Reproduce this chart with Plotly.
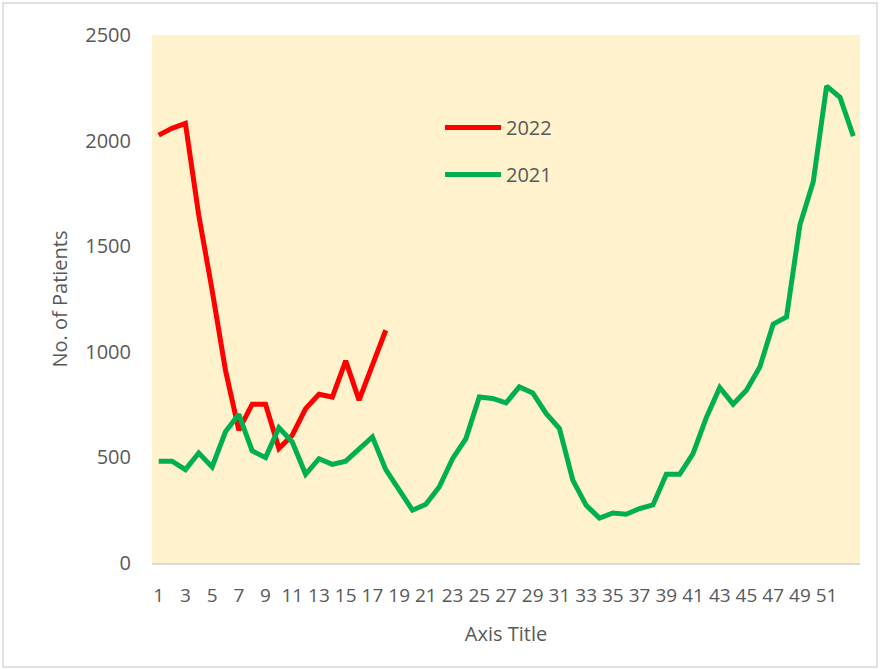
import plotly.graph_objects as go

weeks = list(range(1, 54))
cases_2022 = [2026, 2058, 2081, 1647, 1292, 913, 629, 752, 752, 542, 605, 731,
              799, 786, 957, 771, 937, 1102]
cases_2021 = [482, 482, 442, 521, 455, 621, 704, 531, 499, 641, 573, 420, 494,
              467, 482, 542, 597, 442, 344, 250, 278, 360, 494, 589, 786, 779,
              758, 834, 805, 708, 637, 392, 273, 213, 237, 231, 258, 275, 420,
              420, 518, 689, 831, 752, 818, 928, 1131, 1165, 1600, 1805, 2258,
              2205, 2021]
tick_weeks = weeks[::2][:26]
tick_labels = [str(w) for w in tick_weeks]
y_ticks = [0, 500, 1000, 1500, 2000, 2500]

W, H = 880, 670
ML, MR, MT, MB = 152, 20, 35, 107
PW, PH = W - ML - MR, H - MT - MB

TEXT = "#595959"
FONT = "Open Sans, Liberation Sans, sans-serif"

fig = go.Figure()
fig.add_trace(go.Scatter(x=weeks[:len(cases_2022)], y=cases_2022, mode="lines",
                         name="2022", legendgroup="a",
                         line=dict(color="#FF0000", width=5)))
fig.add_trace(go.Scatter(x=weeks, y=cases_2021, mode="lines",
                         name="2021", legendgroup="b",
                         line=dict(color="#00B050", width=5)))

# outer chart border
fig.add_shape(type="rect", xref="paper", yref="paper",
              x0=(3 - ML) / PW, x1=(877 - ML) / PW,
              y0=-(H - 3 - MT - PH) / PH, y1=1 + (MT - 3) / PH,
              line=dict(color="#D9D9D9", width=1.5), layer="below")

fig.update_layout(
    width=W, height=H,
    margin=dict(l=ML, r=MR, t=MT, b=MB),
    paper_bgcolor="white",
    plot_bgcolor="#FFF2CC",
    font=dict(family=FONT, color=TEXT, size=20),
    showlegend=True,
    legend=dict(x=(440 - ML) / PW, y=1 - (108 - MT) / PH, xanchor="left", yanchor="top",
                bgcolor="rgba(0,0,0,0)", font=dict(size=20, color=TEXT),
                tracegroupgap=18, itemwidth=56),
    xaxis=dict(range=[0.5, 53.5], tickmode="array", tickvals=tick_weeks, ticktext=tick_labels,
               showgrid=False, zeroline=False, showline=True, linecolor="#D9D9D9", linewidth=1.5,
               ticks="", ticklabelstandoff=14, tickfont=dict(size=19, color=TEXT),
               title=dict(text="Axis Title", font=dict(size=20, color=TEXT), standoff=20)),
    yaxis=dict(range=[0, 2500], tickmode="array", tickvals=y_ticks,
               showgrid=False, zeroline=False, showline=False, ticks="",
               ticklabelstandoff=20, tickfont=dict(size=20, color=TEXT),
               title=dict(text="No. of Patients", font=dict(size=20, color=TEXT), standoff=12)),
)

fig.write_html("out.html", config={"displayModeBar": False},
               post_script="document.body.style.margin='0';document.body.style.overflow='hidden';")
